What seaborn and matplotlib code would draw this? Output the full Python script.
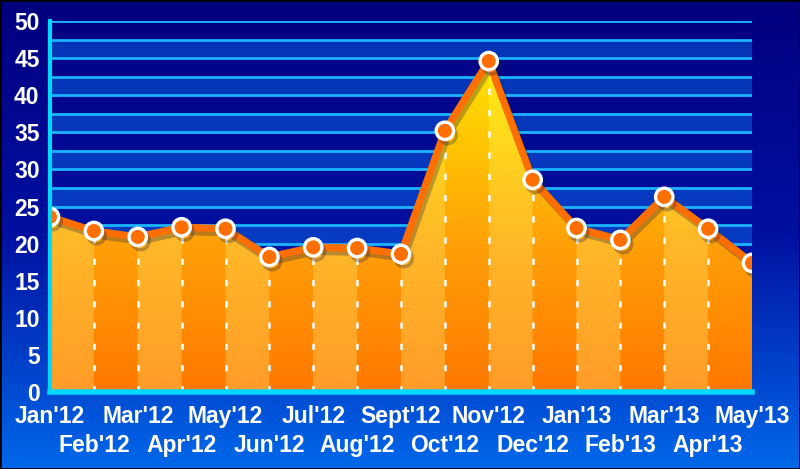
import numpy as np
import pandas as pd
import matplotlib
matplotlib.use("Agg")
import matplotlib.pyplot as plt
import matplotlib.patheffects as pe
from matplotlib.colors import LinearSegmentedColormap
import seaborn as sns

# data
months = ["Jan'12", "Feb'12", "Mar'12", "Apr'12", "May'12", "Jun'12", "Jul'12", "Aug'12",
          "Sept'12", "Oct'12", "Nov'12", "Dec'12", "Jan'13", "Feb'13", "Mar'13", "Apr'13", "May'13"]
values = [23.6, 21.7, 20.9, 22.2, 22.0, 18.2, 19.5, 19.4, 18.6, 35.2, 44.6, 28.6,
          22.1, 20.5, 26.3, 22.0, 17.4]
y_ticks = [0, 5, 10, 15, 20, 25, 30, 35, 40, 45, 50]

df = pd.DataFrame({"pos": range(len(months)), "month": months, "value": values})

sns.set_theme(style="white")
plt.rcParams['font.family'] = ['Liberation Sans', 'DejaVu Sans']

cyan = "#00D8FF"
grid_c = "#1AB4FF"

fig = plt.figure(figsize=(8, 4.69), dpi=100)

# background gradient for the whole figure
bg = fig.add_axes([0, 0, 1, 1], zorder=-10)
bg_cmap = LinearSegmentedColormap.from_list("bg", ["#00007E", "#0010A0", "#0068EA"])
grad = np.linspace(0, 1, 256).reshape(-1, 1)
bg.imshow(grad, aspect="auto", cmap=bg_cmap, extent=[0, 1, 0, 1], origin="upper")
bg.set_axis_off()
bg.add_patch(plt.Rectangle((0, 0), 1, 1, fill=False, edgecolor="black", lw=2,
                           transform=bg.transAxes))

ax = fig.add_axes([50 / 800, 1 - 392 / 469, 702 / 800, 371 / 469])
ax.set_facecolor("none")
n = len(months) - 1
ax.set_xlim(0, n)
ax.set_ylim(0, 50)

# horizontal bands + grid lines every 2.5
for y0 in np.arange(0, 50, 5):
    ax.axhspan(y0, y0 + 2.5, color="#0A58D8", alpha=0.6, lw=0, zorder=0)
for y in np.arange(2.5, 50.1, 2.5):
    ax.axhline(y, color=grid_c, lw=2, zorder=1)

# gradient fill under the line, alternating light / dark columns
light = LinearSegmentedColormap.from_list("light", [(0, "#FF9C28"), (0.4, "#FFB828"), (0.9, "#FFF014"), (1, "#FFF014")])
dark = LinearSegmentedColormap.from_list("dark", [(0, "#FF7800"), (0.4, "#FFA008"), (0.9, "#FFE400"), (1, "#FFE400")])
ny, per = 200, 40
yy = np.linspace(0, 1, ny)
img = np.zeros((ny, n * per, 3))
lc = np.array([light(v)[:3] for v in yy])
dc = np.array([dark(v)[:3] for v in yy])
for i in range(n):
    img[:, i * per:(i + 1) * per, :] = (lc if i % 2 == 0 else dc)[:, None, :]
poly = ax.fill_between(df["pos"], df["value"], 0, facecolor="none", lw=0)
im = ax.imshow(img, aspect="auto", extent=[0, n, 0, 50], origin="lower", zorder=2)
im.set_clip_path(poly.get_paths()[0], transform=ax.transData)

# dashed white drop lines
for p, v in zip(df["pos"][1:-1], df["value"][1:-1]):
    ax.plot([p, p], [0, v - 1.2], color="white", lw=1.8, ls=(0, (2.5, 6)), zorder=3)

# line with markers
sns.lineplot(data=df, x="pos", y="value", ax=ax, color="#FF6F00", lw=5.2, zorder=5,
             marker="o", markersize=12.5, markerfacecolor="#FF6F00",
             markeredgecolor="white", markeredgewidth=2.4,
             path_effects=[pe.SimpleLineShadow(offset=(2, -3), shadow_color="#202040", alpha=0.3),
                           pe.Normal()])

# axes styling
for s in ["top", "right"]:
    ax.spines[s].set_visible(False)
ax.spines["left"].set_color(cyan)
ax.spines["left"].set_linewidth(3)
ax.spines["bottom"].set_color(cyan)
ax.spines["bottom"].set_linewidth(4)
ax.spines["left"].set_zorder(6)
ax.spines["bottom"].set_zorder(6)

ax.set_yticks(y_ticks)
ax.set_yticklabels([str(t) for t in y_ticks])
ax.set_xticks(df["pos"])
ax.set_xticklabels(months)
ax.tick_params(axis="y", direction="out", length=6, width=3, color=cyan, pad=1.5,
               labelcolor="white", labelsize=16.5)
ax.tick_params(axis="x", direction="out", length=6.5, width=3, color=cyan, pad=3,
               labelcolor="white", labelsize=16.5)
for lab in ax.get_xticklabels() + ax.get_yticklabels():
    lab.set_fontweight("bold")
for tick in ax.xaxis.get_major_ticks()[1::2]:
    tick.set_pad(24)
ax.set_xlabel("")
ax.set_ylabel("")

fig.savefig("out.png", dpi=100)
